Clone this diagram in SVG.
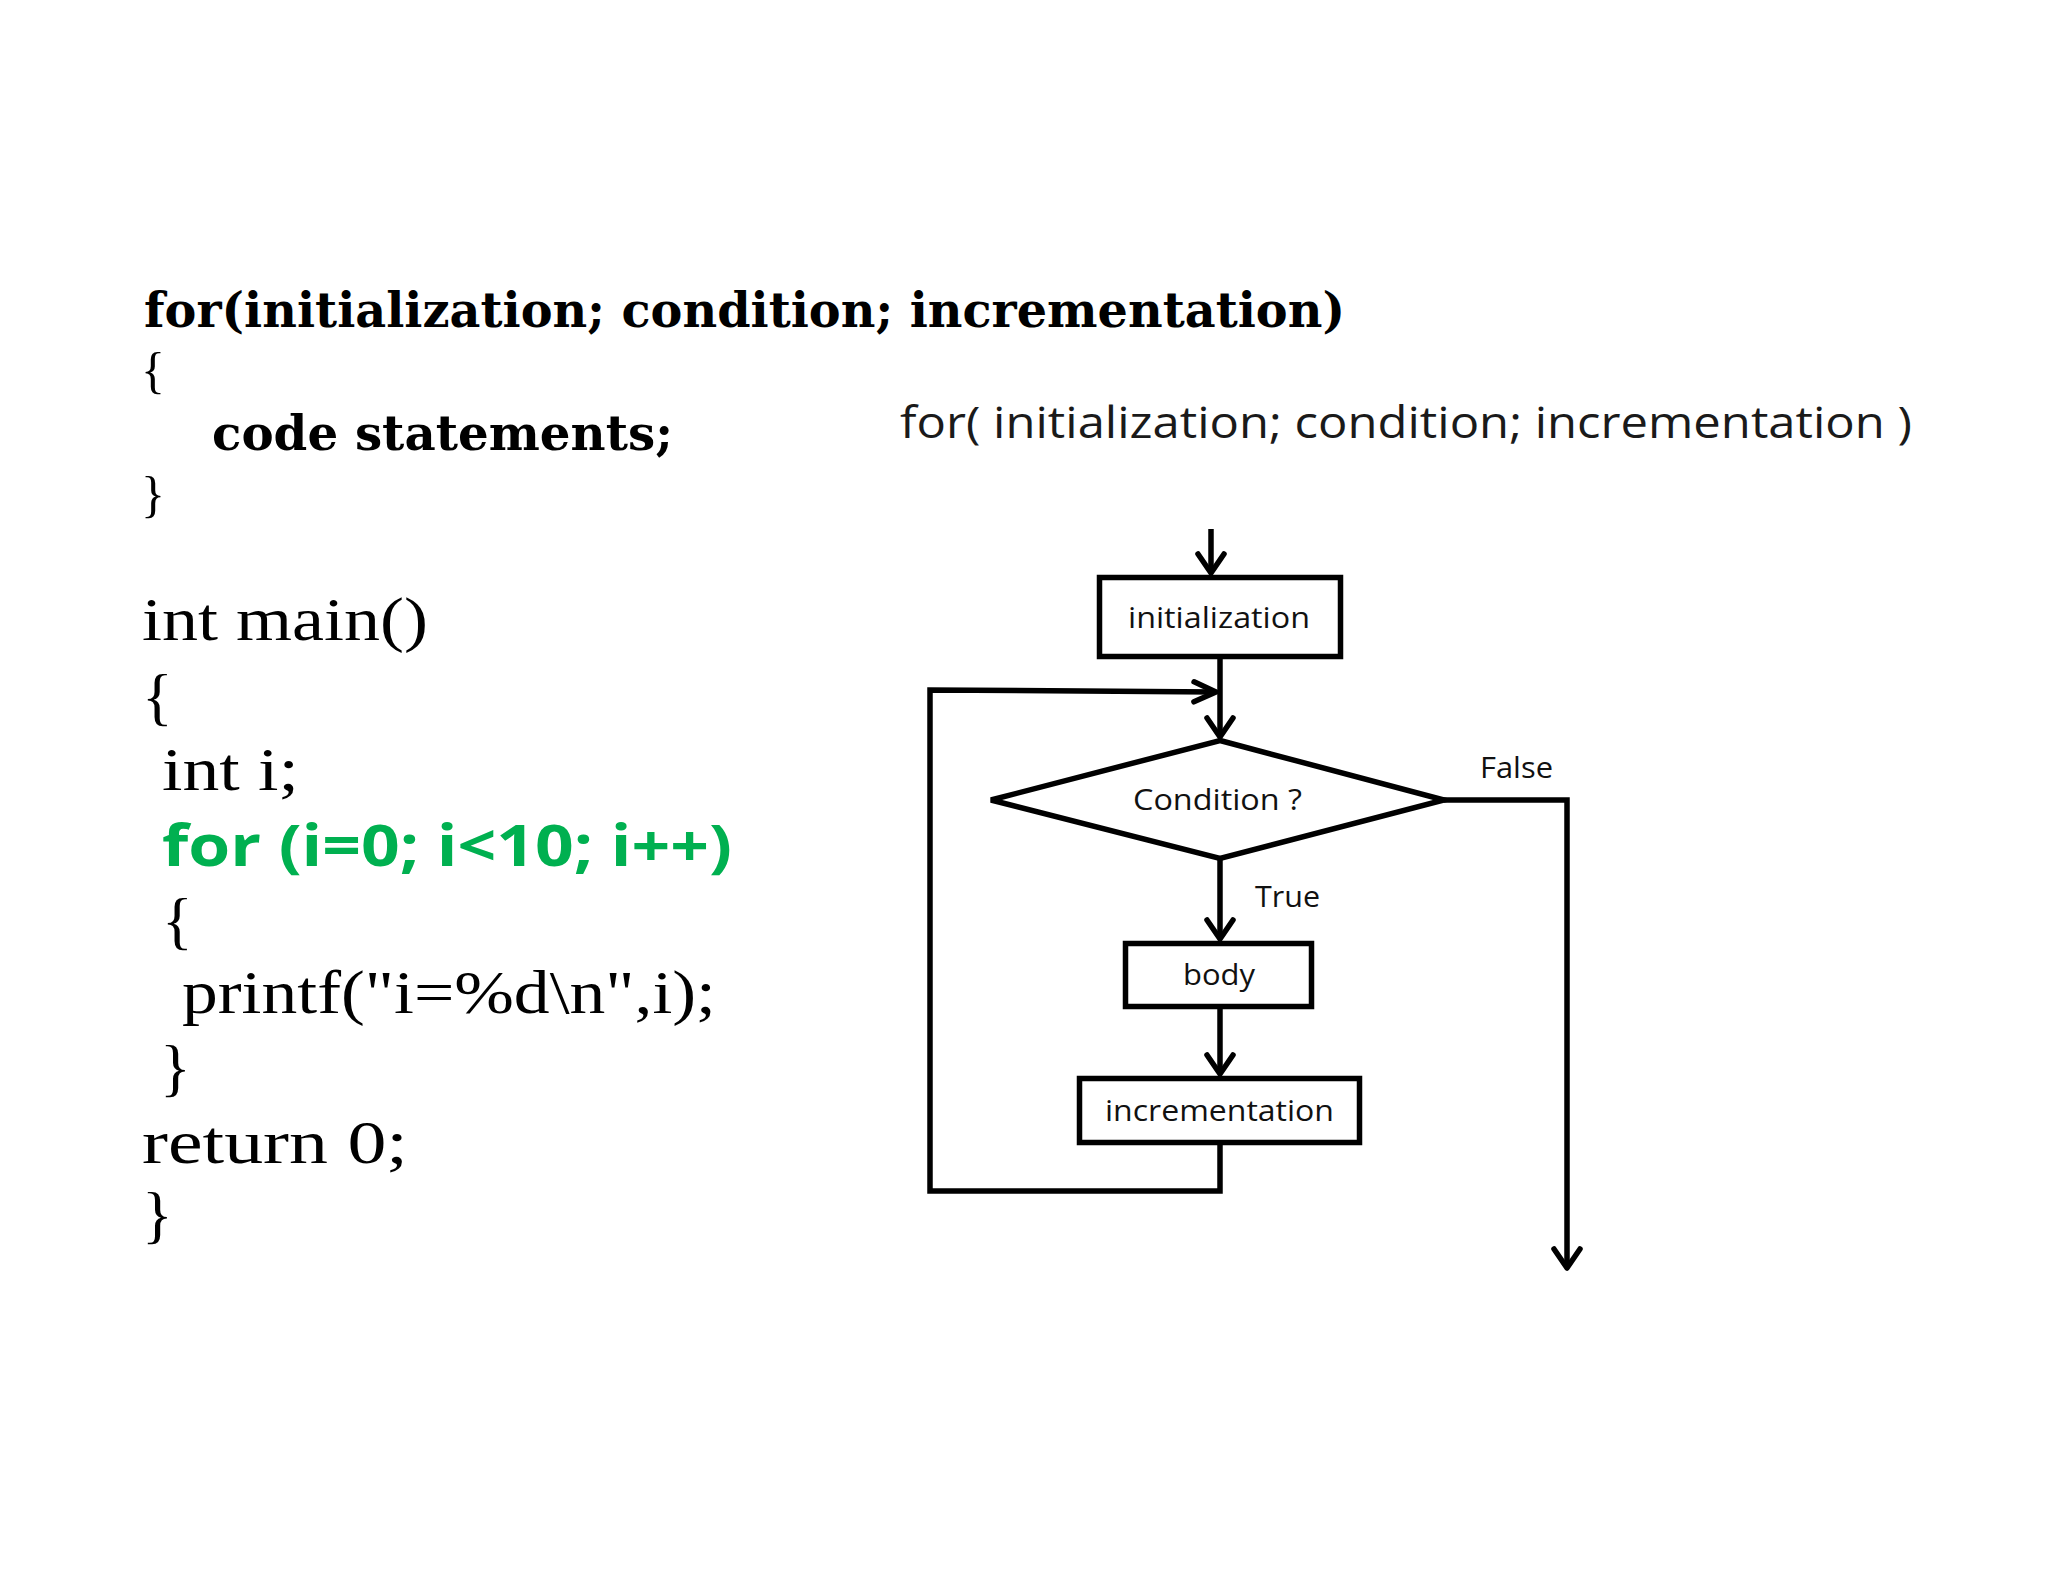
<svg xmlns="http://www.w3.org/2000/svg" width="2048" height="1582" viewBox="0 0 2048 1582">
  <style>
    .hb { font-family: "DejaVu Serif", "Liberation Serif", serif; font-weight: 700; font-size: 48px; fill: #000; }
    .br1 { font-family: "Liberation Serif", serif; font-size: 50px; fill: #000; }
    .code { font-family: "Liberation Serif", serif; font-size: 62px; fill: #000; }
    .br2 { font-family: "Liberation Serif", serif; font-size: 64px; fill: #000; }
    .green { font-family: "Open Sans", "Noto Sans", sans-serif; font-weight: 700; font-size: 58px; fill: #00B050; }
    .title { font-family: "Open Sans", "Noto Sans", sans-serif; font-size: 43px; fill: #1a1a1a; }
    .lbl { font-family: "Open Sans", "Noto Sans", sans-serif; font-size: 29px; fill: #111; }
    .shape { fill: #fff; stroke: #000; stroke-width: 5.5; stroke-linejoin: miter; }
    .conn { fill: none; stroke: #000; stroke-width: 5.5; stroke-linejoin: miter; }
  </style>
  <defs>
    <marker id="arrow" markerUnits="userSpaceOnUse" viewBox="-30 -20 40 40" markerWidth="40" markerHeight="40" refX="0" refY="0" orient="auto" overflow="visible">
      <path d="M-19,-13 L0,0 L-19,13" fill="none" stroke="#000" stroke-width="5.5" stroke-linejoin="round" stroke-linecap="round"/>
    </marker>
    <marker id="arrowH" markerUnits="userSpaceOnUse" viewBox="-30 -20 40 40" markerWidth="40" markerHeight="40" refX="0" refY="0" orient="auto" overflow="visible">
      <path d="M-22,-10 L0,0 L-22,10" fill="none" stroke="#000" stroke-width="5.5" stroke-linejoin="round" stroke-linecap="round"/>
    </marker>
  </defs>
  <rect x="0" y="0" width="2048" height="1582" fill="#fff"/>

  <g id="syntax-code">
    <text class="hb" x="144" y="327" textLength="1201" lengthAdjust="spacingAndGlyphs">for(initialization; condition; incrementation)</text>
    <text class="br1" x="141" y="387">{</text>
    <text class="hb" x="212" y="450" textLength="461" lengthAdjust="spacingAndGlyphs">code statements;</text>
    <text class="br1" x="141" y="511">}</text>
  </g>

  <g id="example-code">
    <text class="code" x="142" y="640" textLength="286" lengthAdjust="spacingAndGlyphs">int main()</text>
    <text class="br2" x="142" y="718">{</text>
    <text class="code" x="162" y="790" textLength="137" lengthAdjust="spacingAndGlyphs">int i;</text>
    <text class="green" x="162" y="866" textLength="570" lengthAdjust="spacingAndGlyphs">for (i=0; i&lt;10; i++)</text>
    <text class="br2" x="162" y="942">{</text>
    <text class="code" x="182" y="1013" textLength="534" lengthAdjust="spacingAndGlyphs">printf("i=%d\n",i);</text>
    <text class="br2" x="160" y="1089">}</text>
    <text class="code" x="142" y="1163" textLength="266" lengthAdjust="spacingAndGlyphs">return 0;</text>
    <text class="br2" x="142" y="1236">}</text>
  </g>

  <g id="flow-title">
    <text class="title" x="900" y="438" textLength="1012" lengthAdjust="spacingAndGlyphs">for( initialization; condition; incrementation )</text>
  </g>

  <g id="connectors">
    <path class="conn" d="M1211,529 L1211,573" marker-end="url(#arrow)"/>
    <path class="conn" d="M1220,659 L1220,737" marker-end="url(#arrow)"/>
    <path class="conn" d="M1220,1145 L1220,1191 L930,1191 L930,690 L1216,692" marker-end="url(#arrowH)"/>
    <path class="conn" d="M1220,860 L1220,939" marker-end="url(#arrow)"/>
    <path class="conn" d="M1220,1009 L1220,1074" marker-end="url(#arrow)"/>
    <path class="conn" d="M1444,800 L1567,800 L1567,1268" marker-end="url(#arrow)"/>
    <text class="lbl" x="1480" y="778" textLength="73" lengthAdjust="spacingAndGlyphs">False</text>
    <text class="lbl" x="1255" y="907" textLength="65" lengthAdjust="spacingAndGlyphs">True</text>
  </g>

  <g id="node-initialization">
    <rect class="shape" x="1099.5" y="577.5" width="241" height="79"/>
    <text class="lbl" x="1128" y="628" textLength="182" lengthAdjust="spacingAndGlyphs">initialization</text>
  </g>

  <g id="node-condition">
    <polygon class="shape" points="1220,740.5 1444,800 1220,858.5 991,800"/>
    <text class="lbl" x="1133" y="810" textLength="169" lengthAdjust="spacingAndGlyphs">Condition ?</text>
  </g>

  <g id="node-body">
    <rect class="shape" x="1125.5" y="943.5" width="186" height="63"/>
    <text class="lbl" x="1183" y="985" textLength="72" lengthAdjust="spacingAndGlyphs">body</text>
  </g>

  <g id="node-incrementation">
    <rect class="shape" x="1079.5" y="1078.5" width="280" height="64"/>
    <text class="lbl" x="1105" y="1121" textLength="229" lengthAdjust="spacingAndGlyphs">incrementation</text>
  </g>
</svg>
